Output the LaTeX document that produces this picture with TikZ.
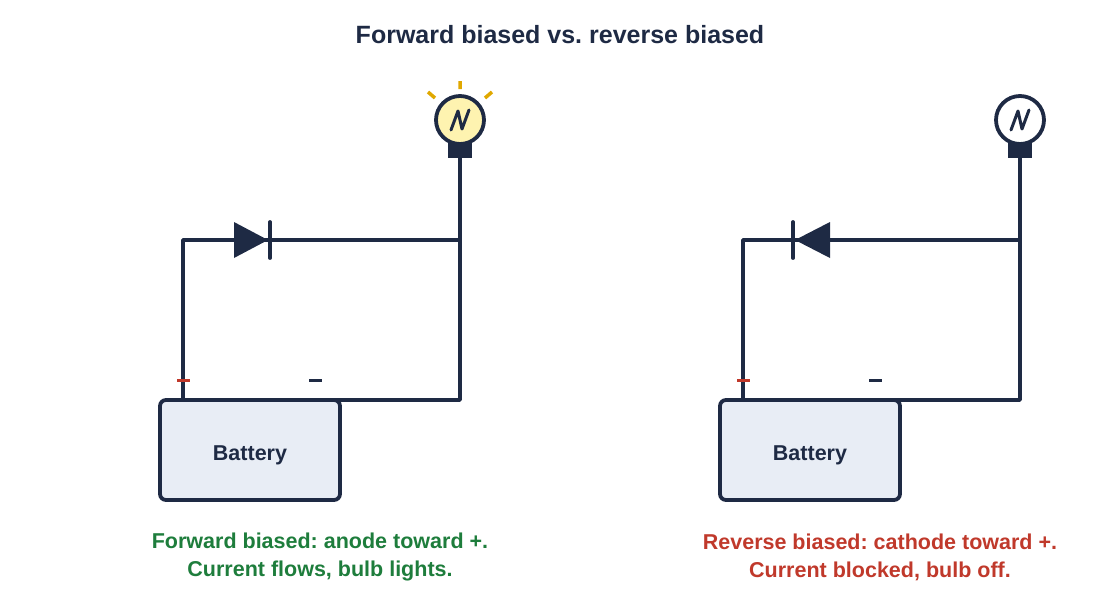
\documentclass[tikz,border=0pt]{standalone}
\usepackage{fontspec}
\setmainfont{Liberation Sans}
\frenchspacing
\definecolor{ink}{HTML}{1E2A44}
\definecolor{batt}{HTML}{E8EDF5}
\definecolor{bulbon}{HTML}{FEF3B0}
\definecolor{ray}{HTML}{E0A800}
\definecolor{okg}{HTML}{1E7D3C}
\definecolor{bad}{HTML}{C0392B}
\begin{document}
\begin{tikzpicture}[x=1pt,y=-1pt,
  wire/.style={draw=ink,line width=3.8pt,line join=round},
  battery/.style={draw=ink,line width=3.8pt,fill=batt,rounded corners=6pt},
  lbl/.style={font=\bfseries\fontsize{21.5}{26}\selectfont,text=ink},
  captxt/.style={font=\bfseries\fontsize{21.5}{28}\selectfont,align=center}]
\useasboundingbox (0,0) rectangle (1120,600);
\node[font=\bfseries\fontsize{25}{30}\selectfont,text=ink] (title) at (560,35) {Forward biased vs. reverse biased};
\foreach \dx/\on/\fwd in {0/1/1,560/0/0}{
\begin{scope}[xshift=\dx]
  \draw[battery] (160,400) rectangle (340,500);
  \node[lbl] (bl) at (250,455) {Battery};
  \coordinate (p) at (183,400);
  \coordinate (m) at (316,400);
  \coordinate (tl) at (183,240);
  \coordinate (tr) at (460,240);
  \coordinate (br) at (460,400);
  \coordinate (bb) at (460,157);
  \draw[wire] (p) -- (tl) -- (tr) -- (br) -- (m);
  \draw[wire] (tr) -- (bb);
  \ifnum\fwd=1
    \fill[ink] (234,222) -- (268,240) -- (234,258) -- cycle;
    \draw[ink,line width=3.8pt,line cap=round] (270,222) -- (270,258);
  \else
    \fill[ink] (270,222) -- (235,240) -- (270,258) -- cycle;
    \draw[ink,line width=3.8pt,line cap=round] (233,222) -- (233,258);
  \fi
  \fill[ink] (448,142) rectangle (472,158);
  \ifnum\on=1
    \draw[ink,line width=3.8pt,fill=bulbon] (460,120) circle (24);
    \draw[ray,line width=3.5pt] (460,81) -- (460,89) (428,92) -- (435,98) (492,92) -- (485,98);
  \else
    \draw[ink,line width=3.8pt,fill=white] (460,120) circle (24);
  \fi
  \draw[ink,line width=3pt,line cap=round,line join=round] (451,130) -- (458,111) -- (462,129) -- (469,110);
  \draw[bad,line width=3pt] (177,380) -- (190,380);
  \draw[ink,line width=3pt] (309,380) -- (322,380);
\end{scope}}
\node[captxt,text=okg] (c1) at (320,557) {Forward biased: anode toward +.\\Current flows, bulb lights.};
\node[captxt,text=bad] (c2) at (880,557) {Reverse biased: cathode toward +.\\Current blocked, bulb off.};
\end{tikzpicture}
\end{document}
